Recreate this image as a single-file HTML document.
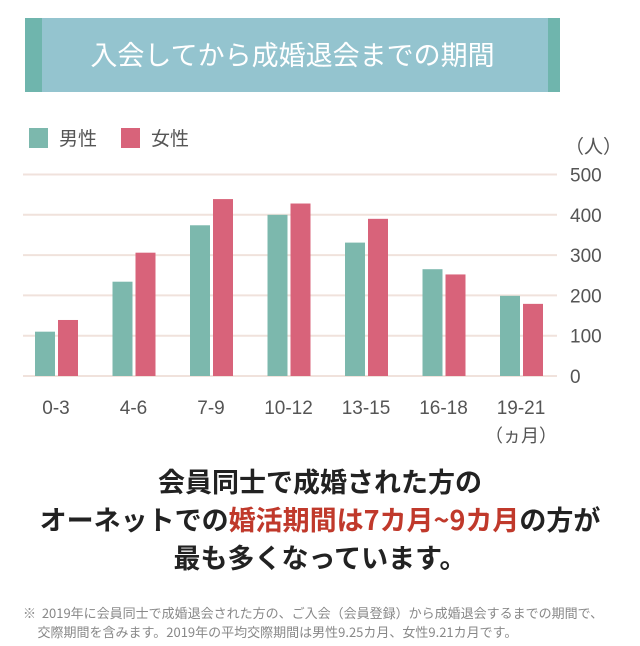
<!DOCTYPE html>
<html><head><meta charset="utf-8">
<style>
html,body{margin:0;padding:0;background:#fff;}
body{width:640px;height:646px;position:relative;overflow:hidden;font-family:"Liberation Sans","Noto Sans CJK JP",sans-serif;}
.abs{position:absolute;}
</style></head><body>
<div class="abs" style="left:25px;top:18px;width:535px;height:74px;background:#94c4cf;">
  <div class="abs" style="left:0;top:0;width:17px;height:74px;background:#6fb5ad;"></div>
  <div class="abs" style="right:0;top:0;width:12px;height:74px;background:#6fb5ad;"></div>
  <div class="abs" style="left:0;width:535px;top:18px;text-align:center;color:#fff;font-size:27px;line-height:36px;font-family:'Noto Sans CJK JP',sans-serif;">入会してから成婚退会までの期間</div>
</div>
<div class="abs" style="left:29px;top:127px;font-size:19px;color:#555;font-family:'Noto Sans CJK JP',sans-serif;line-height:22px;"><span style="display:inline-block;width:19px;height:20px;background:#7cb8ad;vertical-align:-3px;margin-right:11px;"></span>男性</div>
<div class="abs" style="left:121px;top:127px;font-size:19px;color:#555;font-family:'Noto Sans CJK JP',sans-serif;line-height:22px;"><span style="display:inline-block;width:19px;height:20px;background:#d8637a;vertical-align:-3px;margin-right:11px;"></span>女性</div>
<svg class="abs" style="left:0;top:0" width="640" height="450" id="chart"></svg>
<div class="abs" style="left:0;width:640px;top:462px;text-align:center;font-size:27px;font-weight:bold;color:#222;line-height:38px;font-family:'Noto Sans CJK JP',sans-serif;">
会員同士で成婚された方の<br>オーネットでの<span style="color:#c0392b">婚活期間は7カ月~9カ月</span>の方が<br>最も多くなっています。</div>
<div class="abs" style="left:23px;top:603px;font-size:13px;color:#888;line-height:19px;font-family:'Noto Sans CJK JP',sans-serif;white-space:nowrap;">※&nbsp; 2019年に会員同士で成婚退会された方の、ご入会（会員登録）から成婚退会するまでの期間で、<br>&nbsp;&nbsp;&nbsp;&nbsp;&nbsp;交際期間を含みます。2019年の平均交際期間は男性9.25カ月、女性9.21カ月です。</div>
<script>
const categories=["0-3","4-6","7-9","10-12","13-15","16-18","19-21"];
const maleValues=[110,234,374,400,331,265,199];
const femaleValues=[139,306,439,428,390,252,179];
const yTicks=[0,100,200,300,400,500];
const svg=document.getElementById('chart');
const NS='http://www.w3.org/2000/svg';
const y0=376,y500=174.5;
function yScale(v){return y0-(y0-y500)*v/500;}
function xGroup(i){return 35+i*77.5;}
function mk(t,a){const e=document.createElementNS(NS,t);for(const k in a)e.setAttribute(k,a[k]);svg.appendChild(e);return e;}
yTicks.forEach(v=>{
  const l=mk('line',{x1:23,x2:557,y1:yScale(v),y2:yScale(v),stroke:'#f0e2dc','stroke-width':2});
  
  
  const t=mk('text',{x:570,y:yScale(v)+7,'font-size':19,fill:'#555','font-family':'Liberation Sans, sans-serif'});
  t.textContent=v;
  
  
});
const u=mk('text',{x:565,y:153,'font-size':19,fill:'#555','font-family':'Noto Sans CJK JP, sans-serif'});
u.textContent='（人）';


categories.forEach((c,i)=>{
  const x=xGroup(i);
  const m=mk('rect',{x:x,y:yScale(maleValues[i]),width:20,height:y0-yScale(maleValues[i]),fill:'#7cb8ad'});
  
  
  const f=mk('rect',{x:x+23,y:yScale(femaleValues[i]),width:20,height:y0-yScale(femaleValues[i]),fill:'#d8637a'});
  
  
  const t=mk('text',{x:x+21,y:414,'font-size':19,fill:'#555','text-anchor':'middle','font-family':'Liberation Sans, sans-serif'});
  t.textContent=c;
  
  
});
const xu=mk('text',{x:xGroup(6)+21,y:442,'font-size':18,fill:'#555','text-anchor':'middle','font-family':'Noto Sans CJK JP, sans-serif'});
xu.textContent='（ヵ月）';


</script>
</body></html>
